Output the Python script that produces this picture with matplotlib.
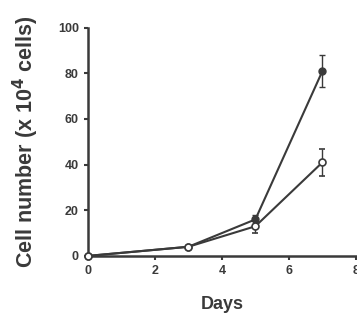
import matplotlib
matplotlib.use("Agg")
import matplotlib.pyplot as plt

plt.rcParams["font.family"] = ["Liberation Sans", "DejaVu Sans"]

days = [0, 3, 5, 7]
filled = [0, 4, 16, 81]
filled_err = [0, 0.5, 2, 7]
open_ = [0, 4, 13, 41]
open_err = [0, 0.5, 3, 6]

col = "#3a3a3a"
fig = plt.figure(figsize=(3.57, 3.26), dpi=100)
ax = fig.add_axes([0.246, 0.215, 0.751, 0.70])

ax.errorbar(days, filled, yerr=filled_err, color=col, marker="o", ms=5,
            mfc=col, mec=col, lw=1.5, capsize=2, elinewidth=1, clip_on=False, zorder=3)
ax.errorbar(days, open_, yerr=open_err, color=col, marker="o", ms=5,
            mfc="white", mec=col, mew=1.2, lw=1.5, capsize=2, elinewidth=1, clip_on=False, zorder=4)

ax.set_xlim(0, 8)
ax.set_ylim(0, 100)
ax.set_xticks([0, 2, 4, 6, 8])
ax.set_yticks([0, 20, 40, 60, 80, 100])
for s in ["top", "right"]:
    ax.spines[s].set_visible(False)
for s in ["left", "bottom"]:
    ax.spines[s].set_linewidth(1.8)
    ax.spines[s].set_color(col)
ax.tick_params(colors=col, width=1.5, length=3, labelsize=9)
for lab in ax.get_xticklabels() + ax.get_yticklabels():
    lab.set_fontweight("bold")

ax.set_xlabel("Days", fontsize=13, fontweight="bold", color=col, labelpad=14)
ax.set_ylabel("Cell number (x 10$^{\\mathbf{4}}$ cells)", fontsize=15.5,
              fontweight="bold", color=col, labelpad=12)

fig.savefig("out.png", dpi=100)
